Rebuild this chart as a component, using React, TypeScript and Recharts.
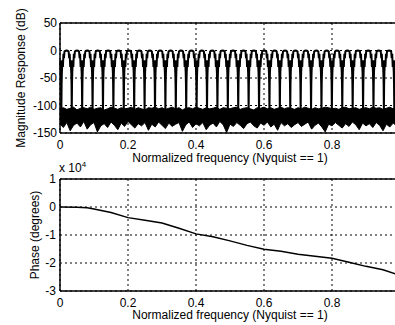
import { Area, CartesianGrid, ComposedChart, Line, LineChart, ReferenceLine, XAxis, YAxis } from "recharts";

const FONT = '"Liberation Sans", Arial, sans-serif';

const FREQ_TICKS = [0, 0.2, 0.4, 0.6, 0.8];
const MAG_TICKS = [-150, -100, -50, 0, 50];
const PHASE_TICKS = [-3, -2, -1, 0, 1];

// notch centres of the magnitude comb
const NOTCHES = [
  0.004, 0.0346, 0.0652, 0.0958, 0.1264, 0.157, 0.1876, 0.2182, 0.2488, 0.2794, 0.31,
  0.3406, 0.3712, 0.4018, 0.4324, 0.463, 0.4936, 0.5242, 0.5548, 0.5854, 0.616, 0.6466,
  0.6772, 0.7078, 0.7384, 0.769, 0.7996, 0.8302, 0.8608, 0.8914, 0.922, 0.9526, 0.9832,
];
const HALF_LOBE = 0.0153;
// one side of a notch: distance from centre (share of half a lobe) and level in dB
const NOTCH_OFFSETS = [0, 0.05, 0.1, 0.2, 0.3, 0.4, 0.5, 0.6, 0.8];
const NOTCH_LEVELS = [-112, -60, -40, -18, -30, -6, -14, -2, -0.5];

// noise floor band, sampled every 0.01
const FLOOR_TOP = [
  -106, -104, -107, -105, -103, -108, -105, -104, -106, -103,
  -107, -105, -104, -108, -106, -103, -105, -107, -104, -106,
  -105, -103, -107, -104, -106, -108, -104, -105, -103, -106,
  -104, -107, -105, -103, -106, -104, -108, -105, -104, -106,
  -103, -105, -107, -104, -106, -105, -103, -107, -104, -105,
  -106, -104, -103, -107, -105, -104, -106, -108, -104, -105,
  -103, -106, -104, -107, -105, -103, -106, -104, -105, -107,
  -104, -106, -103, -105, -107, -104, -106, -105, -103, -104,
  -106, -105, -107, -104, -103, -106, -105, -104, -107, -105,
  -104, -106, -103, -105, -104, -107, -105, -103, -106, -104,
  -105,
];
const FLOOR_BOTTOM = [
  -134, -140, -131, -146, -136, -132, -139, -129, -143, -135,
  -131, -148, -137, -133, -140, -130, -136, -144, -132, -138,
  -129, -135, -141, -133, -137, -131, -145, -134, -139, -130,
  -136, -142, -132, -138, -134, -131, -147, -135, -130, -140,
  -133, -137, -131, -144, -136, -132, -139, -129, -135, -149,
  -134, -138, -131, -136, -142, -133, -130, -137, -141, -132,
  -136, -130, -139, -134, -145, -131, -137, -133, -140, -135,
  -131, -138, -134, -130, -143, -136, -132, -139, -148, -134,
  -137, -131, -136, -141, -133, -138, -130, -135, -144, -132,
  -137, -133, -140, -131, -136, -146, -134, -139, -132, -137,
  -135,
];

// phase in units of 10^4 degrees
const PHASE_FREQ = [0, 0.05, 0.08, 0.1, 0.15, 0.2, 0.25, 0.3, 0.35, 0.4, 0.45, 0.5, 0.55, 0.6, 0.65, 0.7, 0.75, 0.8, 0.85, 0.9, 0.95, 1];
const PHASE_VALUES = [0, -0.01, -0.03, -0.07, -0.2, -0.38, -0.47, -0.57, -0.76, -0.96, -1.06, -1.21, -1.37, -1.51, -1.58, -1.69, -1.76, -1.83, -1.97, -2.12, -2.24, -2.44];

type Row = { f: number; mag?: number; band?: [number, number] };

const magRows: Row[] = [];
NOTCHES.forEach((n) => {
  for (let i = NOTCH_OFFSETS.length - 1; i > 0; i--) {
    magRows.push({ f: n - NOTCH_OFFSETS[i] * HALF_LOBE, mag: NOTCH_LEVELS[i] });
  }
  magRows.push({ f: n, mag: NOTCH_LEVELS[0] });
  for (let i = 1; i < NOTCH_OFFSETS.length; i++) {
    magRows.push({ f: n + NOTCH_OFFSETS[i] * HALF_LOBE, mag: NOTCH_LEVELS[i] });
  }
  magRows.push({ f: n + HALF_LOBE, mag: 0 });
});
const bandRows: Row[] = FLOOR_TOP.map((hi, i) => ({ f: i / 100, band: [FLOOR_BOTTOM[i], hi] }));
const topData = [...magRows.filter((r) => r.f >= 0 && r.f <= 1), ...bandRows].sort((a, b) => a.f - b.f);

const phaseData = PHASE_FREQ.map((f, i) => ({ f, phase: PHASE_VALUES[i] }));

const tick = { fill: "#000", fontSize: 12, fontFamily: FONT };
const axisLine = { stroke: "#000", strokeWidth: 1.5 };
const xLabel = "Normalized frequency (Nyquist == 1)";

export default function App() {
  return (
    <div style={{ position: "absolute", left: 0, top: 0, width: 395, height: 325, overflow: "hidden", background: "#fff", fontFamily: FONT }}>
      <div style={{ position: "absolute", left: 0, top: 0 }}>
        <ComposedChart width={420} height={170} data={topData} margin={{ top: 23, right: 20, bottom: 0, left: 0 }}>
          <CartesianGrid stroke="#000" strokeDasharray="2 3" />
          <XAxis
            type="number"
            dataKey="f"
            domain={[0, 1]}
            ticks={FREQ_TICKS}
            interval={0}
            height={37}
            tick={tick}
            tickLine={false}
            tickSize={0}
            tickMargin={7}
            axisLine={axisLine}
            label={{ value: xLabel, position: "insideBottom", offset: 8, fill: "#000", fontSize: 12 }}
          />
          <YAxis
            domain={[-150, 50]}
            ticks={MAG_TICKS}
            interval={0}
            width={60}
            tick={tick}
            tickLine={false}
            tickSize={0}
            tickMargin={3}
            axisLine={axisLine}
            label={{ value: "Magnitude Response (dB)", angle: -90, position: "insideLeft", offset: 21, fill: "#000", fontSize: 12, style: { textAnchor: "middle" } }}
          />
          <ReferenceLine y={50} stroke="#000" strokeWidth={1.5} />
          <ReferenceLine x={1} stroke="#000" strokeWidth={1.5} />
          <Area dataKey="band" type="linear" stroke="#000" strokeWidth={1} fill="#000" fillOpacity={1} connectNulls isAnimationActive={false} />
          <Line dataKey="mag" type="linear" stroke="#000" strokeWidth={2} dot={false} connectNulls isAnimationActive={false} />
        </ComposedChart>
      </div>
      <div style={{ position: "absolute", left: 0, top: 160 }}>
        <LineChart width={420} height={165} data={phaseData} margin={{ top: 19, right: 20, bottom: 0, left: 0 }}>
          <CartesianGrid stroke="#000" strokeDasharray="2 3" />
          <XAxis
            type="number"
            dataKey="f"
            domain={[0, 1]}
            ticks={FREQ_TICKS}
            interval={0}
            height={34}
            tick={tick}
            tickLine={false}
            tickSize={0}
            tickMargin={7}
            axisLine={axisLine}
            label={{ value: xLabel, position: "insideBottom", offset: 6, fill: "#000", fontSize: 12 }}
          />
          <YAxis
            domain={[-3, 1]}
            ticks={PHASE_TICKS}
            interval={0}
            width={60}
            tick={tick}
            tickLine={false}
            tickSize={0}
            tickMargin={4}
            axisLine={axisLine}
            label={{ value: "Phase (degrees)", angle: -90, position: "insideLeft", offset: 35, fill: "#000", fontSize: 12, style: { textAnchor: "middle" } }}
          />
          <ReferenceLine y={1} stroke="#000" strokeWidth={1.5} />
          <ReferenceLine x={1} stroke="#000" strokeWidth={1.5} />
          <Line dataKey="phase" type="linear" stroke="#000" strokeWidth={1.5} dot={false} isAnimationActive={false} />
        </LineChart>
      </div>
      <div style={{ position: "absolute", left: 59, top: 161, fontSize: 12, color: "#000", whiteSpace: "nowrap" }}>
        x 10<span style={{ fontSize: 8, position: "relative", top: -5 }}>4</span>
      </div>
    </div>
  );
}
